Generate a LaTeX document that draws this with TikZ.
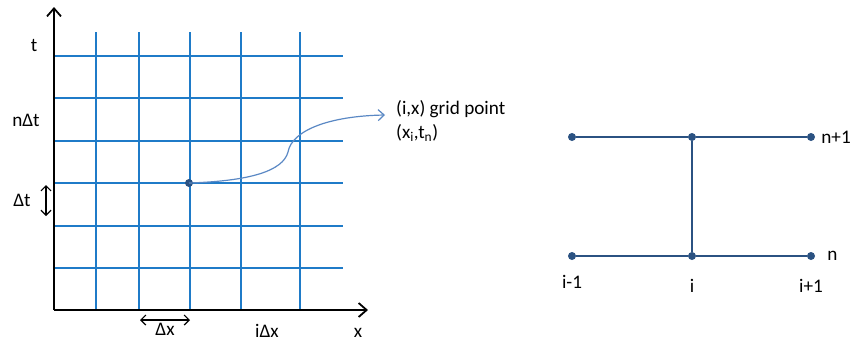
\documentclass[tikz,border=0pt]{standalone}
\usepackage{fontspec}
\setmainfont{Carlito}
\usetikzlibrary{arrows.meta,positioning}
\definecolor{fdGrid}{HTML}{1F7BC8}
\definecolor{fdDot}{HTML}{2B5282}
\definecolor{fdCurve}{HTML}{5A88C4}
\tikzset{
  gridline/.style={fdGrid, line width=1.1pt},
  axisline/.style={-{Straight Barb[length=8pt, width=14pt]}, line width=1.8pt, black},
  deltaline/.style={{Straight Barb[length=5pt, width=10pt]}-{Straight Barb[length=5pt, width=10pt]}, line width=1.2pt, black},
  callout/.style={-{Straight Barb[length=6pt, width=11pt]}, line width=1.2pt, fdCurve},
  fdlabel/.style={font=\fontsize{19.2}{23}\selectfont, inner sep=0pt},
  fdnode/.style={circle, fill=fdDot, inner sep=0pt, minimum size=8pt},
  stencil/.style={line width=1.4pt, fdDot}
}
\begin{document}
\begin{tikzpicture}[x=1pt, y=-1pt]
  \useasboundingbox (0,0) rectangle (850,341);
  % grid
  \foreach \yy in {56,98,141,183,226,268}
    \draw[gridline] (54,\yy) -- (343,\yy);
  \foreach \xx in {96,139,190,241,300}
    \draw[gridline] (\xx,32) -- (\xx,310);
  % axes
  \coordinate (o) at (54,310);
  \coordinate (tend) at (54,7);
  \coordinate (xend) at (368,310);
  \draw[axisline] (o) -- (tend);
  \draw[axisline] (o) -- (xend);
  \node[fdlabel] (tl) at (34,45) {t};
  \node[fdlabel] (ndt) at (26,120) {nΔt};
  \node[fdlabel] (dt) at (22,200) {Δt};
  \node[fdlabel] (dx) at (165,329) {Δx};
  \node[fdlabel] (idx) at (267,331) {iΔx};
  \node[fdlabel] (xl) at (358,333) {x};
  \coordinate (dta) at (46,185);
  \coordinate (dtb) at (46,216);
  \draw[deltaline] (dta) -- (dtb);
  \coordinate (dxa) at (140,320);
  \coordinate (dxb) at (190,320);
  \draw[deltaline] (dxa) -- (dxb);
  % grid point and callout
  \node[fdnode] (pt) at (189,183) {};
  \coordinate (tip) at (385,115);
  \node[fdlabel, anchor=west] (gp) at (396,109) {(i,x) grid point};
  \node[fdlabel, anchor=west] (gpx) at (396,133) {(x\textsubscript{i},t\textsubscript{n})};
  \draw[callout] (pt.center) .. controls (250,181) and (283,171) .. (288,152)
    .. controls (292,130) and (330,116) .. (tip);
  % stencil
  \node[fdnode] (a1) at (572,137) {};
  \node[fdnode] (b1) at (692,137) {};
  \node[fdnode] (c1) at (811,137) {};
  \node[fdnode] (a0) at (572,256) {};
  \node[fdnode] (b0) at (692,256) {};
  \node[fdnode] (c0) at (811,256) {};
  \draw[stencil] (a1) -- (b1) -- (c1);
  \draw[stencil] (a0) -- (b0) -- (c0);
  \draw[stencil] (b1) -- (b0);
  \node[fdlabel, right=6pt of c1] (np1) {n+1};
  \node[fdlabel, right=12pt of c0] (nl) {n};
  \node[fdlabel, below=15pt of a0] (im1) {i-1};
  \node[fdlabel, below=19pt of b0] (il) {i};
  \node[fdlabel, below=19pt of c0] (ip1) {i+1};
\end{tikzpicture}
\end{document}
